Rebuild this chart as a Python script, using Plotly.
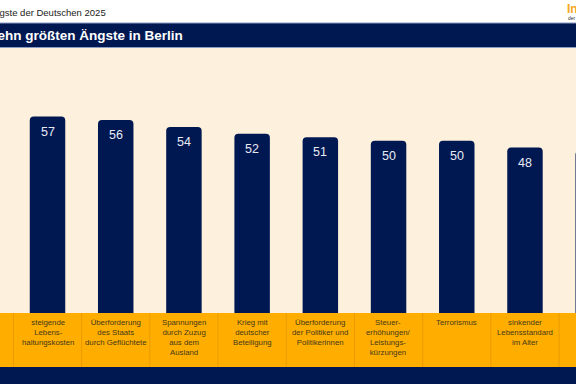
import plotly.graph_objects as go

categories = [
    "Wohnen wird<br>unbezahlbar",
    "steigende<br>Lebens-<br>haltungskosten",
    "Überforderung<br>des Staats<br>durch Geflüchtete",
    "Spannungen<br>durch Zuzug<br>aus dem<br>Ausland",
    "Krieg mit<br>deutscher<br>Beteiligung",
    "Überforderung<br>der Politiker und<br>Politikerinnen",
    "Steuer-<br>erhöhungen/<br>Leistungs-<br>kürzungen",
    "Terrorismus",
    "sinkender<br>Lebensstandard<br>im Alter",
    "Schadstoffe<br>in Nahrungs-<br>mitteln",
]
values = [60, 57, 56, 54, 52, 51, 50, 50, 48, 47]
subtitle = "Die Ängste der Deutschen 2025"
title = "Die zehn größten Ängste in Berlin"

NAVY = "#001852"
CREAM = "#FDF0DC"
ORANGE = "#FFAE00"
FONT = "Liberation Sans, Arial, sans-serif"

W, H = 576, 384
def py(px):
    return 1 - px / H

xs = list(range(len(values)))

fig = go.Figure()
fig.add_trace(go.Bar(
    x=xs, y=values, width=0.52,
    marker=dict(color=NAVY, line=dict(width=0)),
    hoverinfo="skip",
))

annotations = []
for i, v in zip(xs, values):
    annotations.append(dict(
        x=i, y=v, xref="x", yref="y", text=str(v), showarrow=False,
        yanchor="middle", yshift=-15,
        font=dict(family=FONT, size=12.5, color="#E8EAF2"),
    ))
for i, c in zip(xs, categories):
    annotations.append(dict(
        x=i, y=py(316), xref="x", yref="paper", text=c, showarrow=False,
        yanchor="top", xanchor="center", align="center",
        font=dict(family=FONT, size=7.8, color="#45391B"),
    ))

annotations += [
    dict(x=108 / W, y=py(13), xref="paper", yref="paper", text=subtitle,
         showarrow=False, xanchor="right", yanchor="middle",
         font=dict(family=FONT, size=9.5, color="#222222")),
    dict(x=185 / W, y=py(35), xref="paper", yref="paper", text="<b>" + title + "</b>",
         showarrow=False, xanchor="right", yanchor="middle",
         font=dict(family=FONT, size=13.5, color="white")),
    dict(x=565 / W, y=py(9), xref="paper", yref="paper", text="<b>Infocenter</b>",
         showarrow=False, xanchor="left", yanchor="middle",
         font=dict(family=FONT, size=12, color="#F5A623")),
    dict(x=566 / W, y=py(18), xref="paper", yref="paper", text="der R+V Versicherung",
         showarrow=False, xanchor="left", yanchor="middle",
         font=dict(family=FONT, size=5, color="#333333")),
]

shapes = [
    dict(type="rect", xref="paper", yref="paper", x0=0, x1=1, y0=py(47.5), y1=py(23),
         fillcolor=NAVY, line=dict(width=0), layer="below"),
    dict(type="line", xref="paper", yref="paper", x0=0, x1=1, y0=py(23), y1=py(23),
         line=dict(color="#8C9BC0", width=1)),
    dict(type="line", xref="paper", yref="paper", x0=0, x1=1, y0=py(47.5), y1=py(47.5),
         line=dict(color="#8C9BC0", width=1)),
    dict(type="rect", xref="paper", yref="paper", x0=0, x1=1, y0=py(367), y1=py(313),
         fillcolor=ORANGE, line=dict(width=0)),
    dict(type="rect", xref="paper", yref="paper", x0=0, x1=1, y0=0, y1=py(367),
         fillcolor=NAVY, line=dict(width=0)),
]
for i in xs[:-1]:
    shapes.append(dict(type="line", xref="x", yref="paper", x0=i + 0.5, x1=i + 0.5,
                       y0=py(367), y1=py(313), line=dict(color="#E99C00", width=1)))

fig.update_layout(
    width=W, height=H,
    margin=dict(l=0, r=0, t=0, b=0),
    paper_bgcolor="white", plot_bgcolor=CREAM,
    showlegend=False,
    barcornerradius=4,
    xaxis=dict(range=[0.3035, 8.748], showticklabels=False, showgrid=False,
               zeroline=False, fixedrange=True),
    yaxis=dict(range=[0, 76.9], domain=[py(313), py(48)], showticklabels=False,
               showgrid=False, zeroline=False, fixedrange=True),
    annotations=annotations, shapes=shapes,
)

fig.write_html("out.html", config={"displayModeBar": False},
               post_script="document.body.style.margin='0';document.body.style.overflow='hidden';")
